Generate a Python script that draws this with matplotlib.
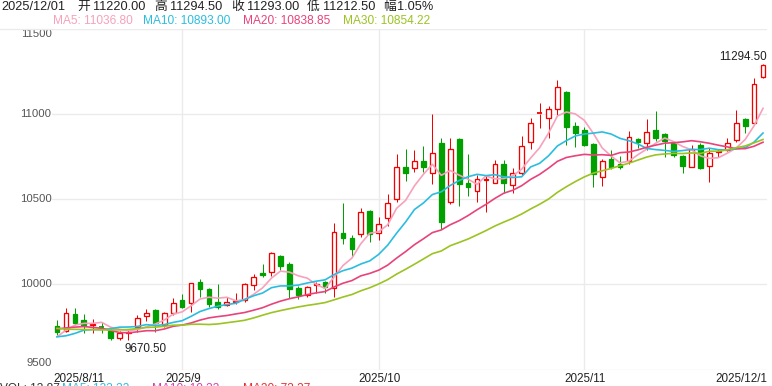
import matplotlib
matplotlib.use('Agg')
import matplotlib.pyplot as plt
from matplotlib.patches import Rectangle
import numpy as np

plt.rcParams['font.family'] = ['Liberation Sans', 'Noto Sans CJK SC', 'DejaVu Sans']

# ---------------- data ----------------
# daily candles 2025/8/11 .. 2025/12/1 (80 sessions)
opens = [9755, 9725, 9825, 9790, 9762, 9753, 9728, 9682.5, 9715, 9749,
         9813.5, 9849, 9761, 9829.5, 9908, 9892, 10015, 9971, 9894, 9878,
         9896, 9908, 9996, 10068, 10071, 10166.5, 10119.5, 9982, 9937, 9994,
         10012, 9976.5, 10300, 10271, 10294, 10431, 10300, 10388, 10500, 10688,
         10682, 10725, 10653, 10829.5, 10486, 10853, 10594, 10549, 10614, 10597.5,
         10706, 10584, 10653, 10835, 11003, 10976.5, 11029, 11129, 10931, 10908,
         10825, 10629.5, 10737, 10708, 10727, 10854.5, 10829.5, 10908, 10884, 10829.5,
         10754.5, 10692, 10819, 10696, 10778, 10790, 10849, 10970.5, 10950.5, 11220]
highs = [9790, 9859, 9859, 9825, 9796, 9780, 9740, 9725, 9741, 9819.5,
         9855, 9853, 9837, 9918, 9941, 10008, 10029.5, 9982, 10002, 9927,
         9951, 10010, 10061, 10119.5, 10192, 10172, 10133, 9990, 9990, 10015,
         10020, 10359, 10480, 10290, 10447, 10437, 10394, 10529.5, 10765, 10796,
         10790, 10813.5, 11000, 10859, 10862, 10859, 10766.5, 10643, 10643, 10731,
         10731, 10682, 10872, 10976.5, 11065, 11049, 11202, 11135, 10956.5, 10923.5,
         10830, 10735, 10790, 10755, 10902, 10859, 10970.5, 11019, 10892, 10833,
         10760.5, 10819.5, 10831, 10800, 10794, 10859, 11025, 10976.5, 11212, 11294.5]
lows = [9702, 9720, 9761, 9714, 9714, 9714, 9672.5, 9675, 9670.5, 9721,
        9784, 9721, 9749, 9819.5, 9864, 9839, 9925, 9868, 9853, 9872,
        9884, 9898, 9967, 10045, 10051, 10084, 9921, 9912, 9927, 9951,
        9951, 9924, 10237, 10162, 10280, 10251, 10261, 10343, 10486, 10608,
        10662, 10662, 10588, 10323.5, 10472, 10461, 10519.5, 10486, 10427, 10594,
        10539, 10535, 10643, 10796, 10918, 10859, 10990, 10819, 10806, 10813.5,
        10574, 10578, 10676.5, 10676.5, 10708, 10800, 10790, 10845, 10750.5, 10750.5,
        10656.5, 10692, 10676.5, 10603.5, 10747, 10786, 10839, 10888, 10937, 11212.5]
closes = [9721, 9829.5, 9774, 9764, 9768, 9751, 9687, 9714, 9722, 9800,
          9829.5, 9771, 9833, 9893, 9868, 10006, 9971, 9887, 9865, 9894,
          9905, 10000, 10045, 10055, 10182, 10109.5, 9971, 9937, 9986, 10000,
          9986, 10309.5, 10274, 10206, 10423.5, 10294, 10353, 10476.5, 10692, 10653,
          10725, 10692, 10770.5, 10368, 10794, 10588, 10574, 10617.5, 10618, 10706,
          10598, 10653, 10813.5, 10947, 11006, 11029, 11159, 10927, 10892, 10819,
          10649, 10727, 10688, 10692, 10868, 10839, 10894, 10859, 10845, 10760.5,
          10697.5, 10794, 10682, 10770.5, 10782, 10829.5, 10947, 10931, 11176, 11293]
# closes of the 29 sessions before 2025/8/11 (read back from the MA lines)
prior_closes = [10000, 9800, 9790, 9800, 9787, 9700, 9701, 9650, 9640, 9643,
                9710, 9680, 9698, 9860, 9860, 9950, 9946, 9762, 9680, 9700,
                9770, 9634, 9574, 9728, 9755, 9635, 9624, 9714, 9767]

x_tick_idx = [0, 14, 36, 59, 79]
x_tick_labels = ['2025/8/11', '2025/9', '2025/10', '2025/11', '2025/12/1']
grid_idx = [14, 36, 59]
y_ticks = [9500, 10000, 10500, 11000, 11500]

ma_periods = [5, 10, 20, 30]
ma_colors = ['#f7a1bb', '#2bbde0', '#e8437a', '#9bc322']
ma_labels = ['MA5: 11036.80', 'MA10: 10893.00', 'MA20: 10838.85', 'MA30: 10854.22']

header_parts = [('2025/12/01', 1.5), ('开', 77), ('11220.00', 93), ('高', 154), ('11294.50', 170),
                ('收', 231), ('11293.00', 247), ('低', 307), ('11212.50', 323), ('幅', 383), ('1.05%', 397)]

UP = '#f40000'
DOWN = '#00a000'

# ---------------- figure ----------------
W, H, DPI = 772, 386, 100
fig = plt.figure(figsize=(W / DPI, H / DPI), dpi=DPI)
L, R, T, B = 52, 767, 29.3, 369.5
ax = fig.add_axes([L / W, 1 - B / H, (R - L) / W, (B - T) / H])
n = len(closes)
pitch = 8.937
x0 = 57
ax.set_xlim((L - x0) / pitch, (R - x0) / pitch)
ax.set_ylim(9500, 11500)
for s in ax.spines.values():
    s.set_visible(False)
ax.set_xticks([])
ax.set_yticks([])

gcol = '#ebebeb'
for v in y_ticks:
    ax.axhline(v, color=gcol, lw=1.0, zorder=0)
for gi in grid_idx:
    ax.axvline(gi, color=gcol, lw=1.0, zorder=0)
# top separator across full width
fig.add_artist(plt.Line2D([0, L / W], [1 - T / H, 1 - T / H], color=gcol, lw=1.0))

# candles
bw = 0.53
px_lw = 72 / DPI
for i in range(n):
    o, h, l, c = opens[i], highs[i], lows[i], closes[i]
    up = c >= o
    col = UP if up else DOWN
    top, bot = max(o, c), min(o, c)
    if up:
        ax.plot([i, i], [top, h], color=col, lw=px_lw, zorder=2, solid_capstyle='butt')
        ax.plot([i, i], [l, bot], color=col, lw=px_lw, zorder=2, solid_capstyle='butt')
    else:
        ax.plot([i, i], [l, h], color=col, lw=px_lw, zorder=2, solid_capstyle='butt')
    if top - bot < 4:
        ax.plot([i - bw / 2, i + bw / 2], [c, c], color=col, lw=1.3, zorder=3, solid_capstyle='butt')
    else:
        ax.add_patch(Rectangle((i - bw / 2, bot), bw, top - bot, facecolor='white' if up else col,
                               edgecolor=col, lw=px_lw * 1.3, zorder=3))

# moving averages
all_c = np.array(prior_closes + closes, dtype=float)
xs = np.arange(n)
for p, colr in zip(ma_periods, ma_colors):
    m = np.convolve(all_c, np.ones(p) / p, mode='valid')[-n:]
    ax.plot(xs, m, color=colr, lw=1.2, zorder=4)

# y labels
for v in y_ticks:
    dy = 0
    if v == 11500:
        dy = -4.7
    elif v == 9500:
        dy = 6.5
    ax.annotate(str(v), xy=(0, v), xycoords=('axes fraction', 'data'),
                xytext=(-0.3, dy * 0.72), textcoords='offset points',
                ha='right', va='center', fontsize=8.2, color='#555555')

# x labels
for idx, lab in zip(x_tick_idx, x_tick_labels):
    if idx == 0:
        ax.annotate(lab, xy=(0, 0), xycoords='axes fraction', xytext=(0.7, -9 * 0.72),
                    textcoords='offset points', ha='left', va='center', fontsize=8.4, color='#222222')
    elif idx == n - 1:
        ax.annotate(lab, xy=(1, 0), xycoords='axes fraction', xytext=(0, -9 * 0.72),
                    textcoords='offset points', ha='right', va='center', fontsize=8.4, color='#222222')
    else:
        ax.annotate(lab, xy=(idx, 0), xycoords=('data', 'axes fraction'), xytext=(0.5, -9 * 0.72),
                    textcoords='offset points', ha='center', va='center', fontsize=8.4, color='#222222')

# max / min marks
imax = int(np.argmax(highs))
imin = int(np.argmin(lows))
ax.annotate('%.2f' % highs[imax], xy=(imax, highs[imax]), xytext=(4 * 0.72, 7.5 * 0.72),
            textcoords='offset points', ha='right', va='center', fontsize=8.4, color='#222222')
ax.annotate('%.2f' % lows[imin], xy=(imin, lows[imin]), xytext=(-3.5 * 0.72, -9 * 0.72),
            textcoords='offset points', ha='left', va='center', fontsize=8.4, color='#222222')

# header
for txt, xp in header_parts:
    fig.text(xp / W, 1 - 6.8 / H, txt, ha='left', va='center', fontsize=9.2, color='#222222')
leg_x = [53, 143, 243, 343]
for txt, xp, colr in zip(ma_labels, leg_x, ma_colors):
    fig.text(xp / W, 1 - 21 / H, txt, ha='left', va='center', fontsize=8.6, color=colr)

# sub-chart legend at the very bottom (cut off by the canvas edge, as in the reference)
sub = [('VOL: 13.87', 0, '#333333'), ('MA5: 123.33', 62, '#2bbde0'),
       ('MA10: 10.33', 152, '#d63fb0'), ('MA20: 73.37', 243, '#e83030')]
for txt, xp, colr in sub:
    fig.text(xp / W, 1 - 383.5 / H, txt, ha='left', va='top', fontsize=8.6, color=colr)

fig.savefig('out.png', dpi=DPI)
